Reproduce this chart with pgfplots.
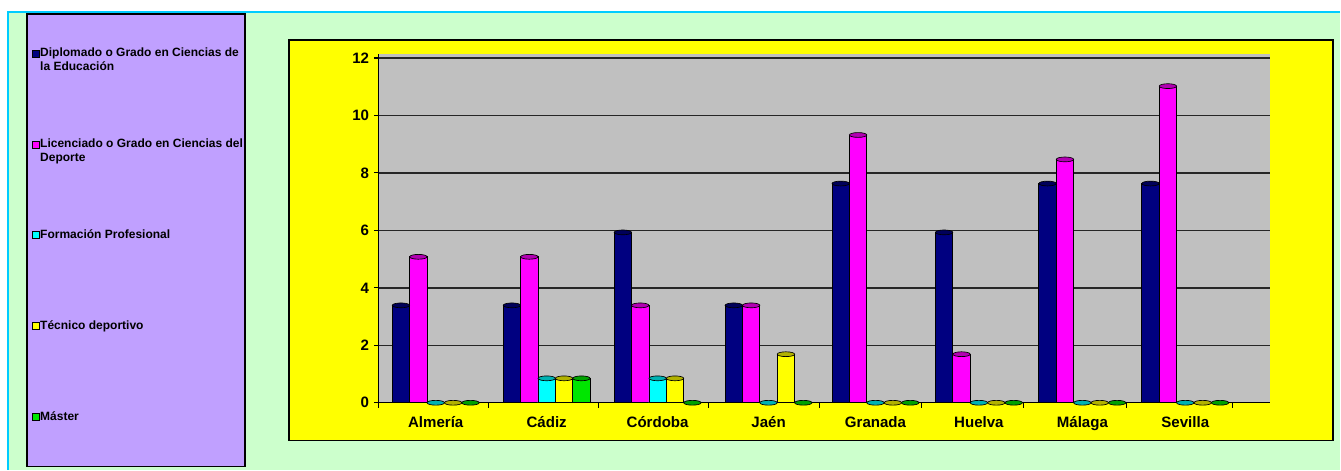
\documentclass[border=0pt]{standalone}
\usepackage{fontspec}
\setmainfont{Liberation Sans}
\usepackage{pgfplots}
\usepackage{pgfplotstable}
\usetikzlibrary{shapes.geometric}
\pgfplotsset{compat=1.18}

\definecolor{bgGreen}{HTML}{CCFFCC}
\definecolor{frameCyan}{HTML}{00CCFF}
\definecolor{legendLilac}{HTML}{C0A0FF}
\definecolor{boxYellow}{HTML}{FFFF00}
\definecolor{wallGray}{HTML}{C0C0C0}
\definecolor{gridDark}{HTML}{262626}
\definecolor{sNavy}{HTML}{000080}
\definecolor{sMagenta}{HTML}{FF00FF}
\definecolor{sCyan}{HTML}{00FFFF}
\definecolor{sYellow}{HTML}{FFFF00}
\definecolor{sGreen}{HTML}{00E600}

% percentages per province; xpos = horizontal position of each group
\pgfplotstableread{
xpos   dip   lic   fp    tec   mas
436    3.39  5.08  0     0     0
547    3.39  5.08  0.85  0.85  0.85
658    5.93  3.39  0.85  0.85  0
769    3.39  3.39  0     1.69  0
876    7.63  9.32  0     0     0
979.5  5.93  1.69  0     0     0
1083   7.63  8.47  0     0     0
1186   7.63  11.02 0     0     0
}\datatable

\newcommand{\legfont}{\bfseries\fontsize{9}{10.5}\selectfont}

% cylinder-style bar: flat body plus an elliptic cap at the top
\pgfplotsset{
  cyl/.style={
    fill=#1, draw=black, line width=0.6pt,
    nodes near coords={},
    every node near coord/.append style={
      anchor=center, shape=ellipse, draw=black, line width=0.5pt,
      fill=#1!70!black, minimum width=13.05pt, minimum height=3.6pt,
      inner sep=0pt},
  },
}

\begin{document}
\begin{tikzpicture}[x=0.75pt,y=0.75pt]
  % page background and frames
  \fill[white] (0,0) rectangle (1341,470);
  \fill[bgGreen] (8,0) rectangle (1341,458);
  \draw[frameCyan, line width=1.2pt] (8,0) -- (8,458) -- (1341,458);
  \draw[black, line width=1.1pt, fill=legendLilac] (27,3) rectangle (245,456);
  \draw[black, line width=1.1pt, fill=boxYellow] (289,29) rectangle (1334,430);

  \begin{axis}[
    at={(284.25pt,50.25pt)}, anchor=south west,
    scale only axis, width=669pt, height=261.75pt,
    xmin=379, xmax=1271, ymin=0, ymax=12.14,
    ybar=0pt, bar width=13.05pt,
    axis lines*=left,
    axis line style={black, line width=1pt},
    axis background/.style={fill=wallGray},
    ymajorgrids, grid style={gridDark, line width=1.1pt},
    ytick={0,2,...,12},
    xtick={436,547,658,769,876,979.5,1083,1186},
    xticklabels={Almería,Cádiz,Córdoba,Jaén,Granada,Huelva,Málaga,Sevilla},
    minor xtick={379,489,599,709,820,922,1024,1127,1233},
    major x tick style={draw=none},
    tick align=outside, major tick length=3.75pt, minor tick length=3.75pt,
    tick style={black, line width=0.8pt},
    ticklabel style={font=\bfseries\fontsize{11.3}{13}\selectfont},
    xticklabel style={yshift=-3pt},
    /pgf/number format/assume math mode=true,
    clip=false,
  ]
    \addplot[cyl=sNavy]    table[x=xpos, y=dip] {\datatable};
    \addplot[cyl=sMagenta] table[x=xpos, y=lic] {\datatable};
    \addplot[cyl=sCyan]    table[x=xpos, y=fp]  {\datatable};
    \addplot[cyl=sYellow]  table[x=xpos, y=tec] {\datatable};
    \addplot[cyl=sGreen]   table[x=xpos, y=mas] {\datatable};
  \end{axis}

  % legend
  \begin{scope}[line width=0.6pt]
    \draw[fill=sNavy]    (32,413) rectangle (39,420);
    \draw[fill=sMagenta] (32,322) rectangle (39,329);
    \draw[fill=sCyan]    (32,231) rectangle (39,238);
    \draw[fill=sYellow]  (32,140) rectangle (39,147);
    \draw[fill=sGreen]   (32,49)  rectangle (39,56);
  \end{scope}
  \begin{scope}[every node/.style={anchor=base west, inner sep=0pt, font=\legfont}]
    \node at (40,413)   {Diplomado o Grado en Ciencias de};
    \node at (40,399.5) {la Educación};
    \node at (40,322)   {Licenciado o Grado en Ciencias del};
    \node at (40,308.5) {Deporte};
    \node at (40,231)   {Formación Profesional};
    \node at (40,140)   {Técnico deportivo};
    \node at (40,49)    {Máster};
  \end{scope}
\end{tikzpicture}
\end{document}
